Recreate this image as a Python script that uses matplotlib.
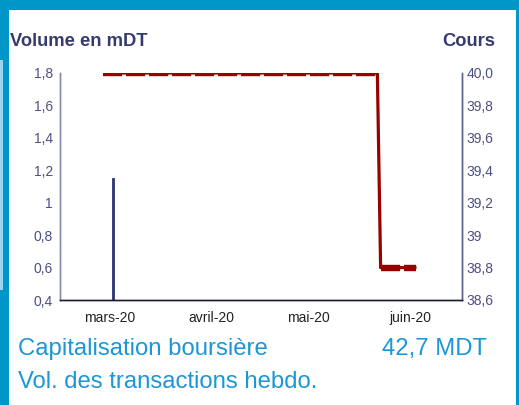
import matplotlib
matplotlib.use("Agg")
import matplotlib.pyplot as plt
import numpy as np
import pandas as pd
from matplotlib.patches import Rectangle

plt.rcParams['font.family'] = ['Liberation Sans', 'DejaVu Sans']

# weekly share price (Cours)
price_dates = pd.to_datetime([
    "2020-02-28", "2020-03-06", "2020-03-13", "2020-03-20", "2020-03-27",
    "2020-04-03", "2020-04-10", "2020-04-17", "2020-04-24", "2020-05-01",
    "2020-05-08", "2020-05-15", "2020-05-22", "2020-05-23", "2020-06-03",
])
price_values = [40.0] * 13 + [38.8, 38.8]

# weekly volume in mDT
volume_dates = pd.to_datetime(["2020-03-02"])
volume_values = [1.15]

month_ticks = pd.to_datetime(["2020-03-01", "2020-04-01", "2020-05-01", "2020-06-01"])
month_labels = ["mars-20", "avril-20", "mai-20", "juin-20"]

left_ticks = [0.4, 0.6, 0.8, 1.0, 1.2, 1.4, 1.6, 1.8]
left_labels = ["0,4", "0,6", "0,8", "1", "1,2", "1,4", "1,6", "1,8"]
right_ticks = [38.6, 38.8, 39.0, 39.2, 39.4, 39.6, 39.8, 40.0]
right_labels = ["38,6", "38,8", "39", "39,2", "39,4", "39,6", "39,8", "40,0"]

NAVY = "#363A6E"
TICK_C = "#4B5082"
RED = "#990000"
FRAME = "#0096C8"
TXT_BLUE = "#1B96D8"

W, H = 519, 405
fig = plt.figure(figsize=(W / 100, H / 100), dpi=100)

def px(x0, y0, w, h, **kw):
    # rectangle in pixel units, origin top-left
    fig.patches.append(Rectangle((x0 / W, 1 - (y0 + h) / H), w / W, h / H,
                                 transform=fig.transFigure, figure=fig,
                                 edgecolor="none", **kw))

# blue frame
px(0, 0, W, 9.5, facecolor=FRAME)
px(0, 0, 9, H, facecolor=FRAME)
px(0, 60, 3, 230, facecolor="#9CD3EE")
px(515.5, 0, 4, H, facecolor=FRAME)

ax = fig.add_axes([60 / W, 1 - 300 / H, 402 / W, 227 / H])
ax2 = ax.twinx()

ax.bar(volume_dates, volume_values, width=0.7, color="#2E3575",
       edgecolor="#2E3575", linewidth=0.6, zorder=3)
ax.set_ylim(0.4, 1.8)
ax.set_yticks(left_ticks)
ax.set_yticklabels(left_labels)

# solid line underneath, thick dashes on the flat runs
ax2.plot(price_dates, price_values, color=RED, lw=2.3, solid_capstyle="butt")
pv = np.array(price_values)
flat_runs = np.split(np.arange(len(pv)), np.where(np.diff(pv) != 0)[0] + 1)
for run in flat_runs:
    if len(run) > 1:
        ax2.plot(price_dates[run], pv[run], color=RED, lw=4.6,
                 linestyle=(0, (3.0, 0.6)), dash_capstyle="butt")
ax2.set_ylim(38.6, 40.0)
ax2.set_yticks(right_ticks)
ax2.set_yticklabels(right_labels)

ax.set_xlim(pd.Timestamp("2020-02-14 16:00"), pd.Timestamp("2020-06-16 23:00"))
ax.set_xticks(month_ticks)
ax.set_xticklabels(month_labels)

for a in (ax, ax2):
    a.spines["top"].set_visible(False)
    a.spines["left"].set_color("#8488AC")
    a.spines["right"].set_color("#5A5F90")
    a.spines["bottom"].set_color("#1C1C30")
    for s in a.spines.values():
        s.set_linewidth(1.0)
    a.set_facecolor("none")

ax.tick_params(axis="y", length=0, pad=5, labelsize=10, labelcolor=TICK_C)
ax2.tick_params(axis="y", length=0, pad=3, labelsize=10, labelcolor=TICK_C)
ax.tick_params(axis="x", length=0, pad=8, labelsize=10, labelcolor="#222222")

fig.text(10 / W, 1 - 46 / H, "Volume en mDT", fontsize=13.2, fontweight="bold",
         color=NAVY, ha="left", va="baseline")
fig.text(495 / W, 1 - 46 / H, "Cours", fontsize=13.2, fontweight="bold",
         color=NAVY, ha="right", va="baseline")

fig.text(18 / W, 1 - 355 / H, "Capitalisation boursière", fontsize=17.2,
         color=TXT_BLUE, ha="left", va="baseline")
fig.text(487 / W, 1 - 355 / H, "42,7 MDT", fontsize=17.2,
         color=TXT_BLUE, ha="right", va="baseline")
fig.text(18 / W, 1 - 388 / H, "Vol. des transactions hebdo.", fontsize=17.2,
         color=TXT_BLUE, ha="left", va="baseline")

fig.savefig("out.png", dpi=100)
